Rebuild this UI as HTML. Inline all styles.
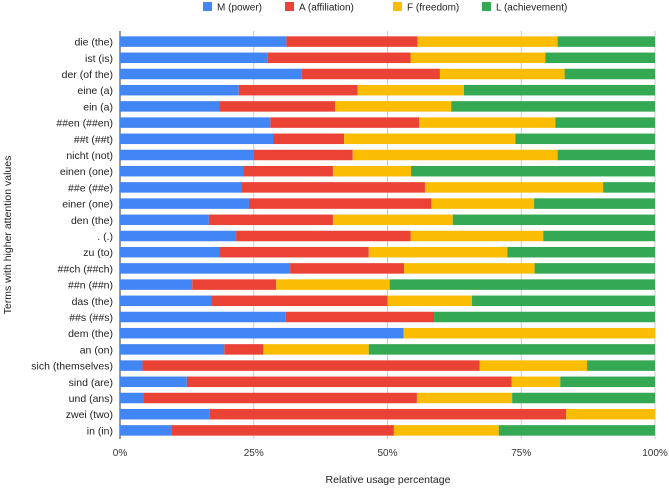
<!DOCTYPE html>
<html><head><meta charset="utf-8"><style>
body{margin:0;background:#fff;font-family:"Liberation Sans",sans-serif;}
svg text{font-family:"Liberation Sans",sans-serif;}
</style></head><body>
<svg id="chart" width="669" height="487" xmlns="http://www.w3.org/2000/svg"></svg>
<script>
const categories=["die (the)","ist (is)","der (of the)","eine (a)","ein (a)","##en (##en)","##t (##t)","nicht (not)","einen (one)","##e (##e)","einer (one)","den (the)",". (.)","zu (to)","##ch (##ch)","##n (##n)","das (the)","##s (##s)","dem (the)","an  (on)","sich (themselves)","sind (are)","und (ans)","zwei (two)","in (in)"];
const seriesM=[31.1,27.6,34.0,22.2,18.6,28.1,28.6,24.9,23.0,22.7,24.1,16.6,21.7,18.6,31.8,13.5,17.1,31.0,53.0,19.5,4.2,12.5,4.4,16.7,9.6];
const seriesA=[24.5,26.7,25.8,22.2,21.6,27.8,13.3,18.6,16.8,34.3,34.1,23.2,32.6,27.9,21.3,15.7,32.9,27.7,0,7.3,63.0,60.7,51.1,66.7,41.6];
const seriesF=[26.2,25.2,23.3,19.9,21.7,25.5,32.0,38.3,14.6,33.3,19.2,22.4,24.8,25.9,24.4,21.2,15.8,0,47.0,19.7,20.1,9.1,17.8,16.6,19.6];
const seriesL=[18.2,20.5,16.9,35.7,38.1,18.6,26.1,18.2,45.6,9.7,22.6,37.8,20.9,27.6,22.5,49.6,34.2,41.3,0,53.5,12.7,17.7,26.7,0,29.2];
const seriesNames=["M (power)","A (affiliation)","F (freedom)","L (achievement)"];
const colors=["#4285f4","#ea4335","#fbbc04","#34a853"];
const tickValues=[0,25,50,75,100];
const tickLabels=["0%","25%","50%","75%","100%"];

const NS="http://www.w3.org/2000/svg";
const svg=document.getElementById('chart');
const X0=120,X1=655,Y0=33.5,STEP=16.2,BH=10.5;
const xs=v=>X0+(X1-X0)*v/100;
const yc=i=>Y0+STEP*(i+0.5);
function mk(t,a){const e=document.createElementNS(NS,t);for(const k in a)e.setAttribute(k,a[k]);svg.appendChild(e);return e;}

const legX=[203,285,393,482];
seriesNames.forEach((n,i)=>{
  const r=mk('rect',{x:legX[i],y:2,width:9,height:9,fill:colors[i]});
  
  
  const t=mk('text',{x:legX[i]+14,y:10.5,'font-size':10,fill:'#222'});
  t.textContent=n;
  
  
});
tickValues.forEach((v,i)=>{
  const g=mk('line',{x1:xs(v),x2:xs(v),y1:31,y2:439,stroke:i==0?'#333':'#ccc','stroke-width':1});
  
  
  const t=mk('text',{x:xs(v),y:456,'font-size':10,fill:'#333','text-anchor':'middle'});
  t.textContent=tickLabels[i];
  
  
});
const series=[seriesM,seriesA,seriesF,seriesL];
categories.forEach((c,i)=>{
  let acc=0;
  series.forEach((s,k)=>{
    const v=s[i];
    if(v>0){
      const r=mk('rect',{x:xs(acc),y:yc(i)-BH/2,width:xs(acc+v)-xs(acc),height:BH,fill:colors[k]});
      
      
    }
    acc+=v;
  });
  const t=mk('text',{x:113,y:yc(i)+4,'font-size':10.5,fill:'#222','text-anchor':'end'});
  t.textContent=c;
  
  
});
const xt=mk('text',{x:388,y:483,'font-size':10.5,fill:'#222','text-anchor':'middle'});
xt.textContent="Relative usage percentage";


const yt=mk('text',{x:0,y:0,'font-size':10.5,fill:'#222','text-anchor':'middle',transform:'translate(11,235) rotate(-90)'});
yt.textContent="Terms with higher attention values";


</script>
</body></html>
